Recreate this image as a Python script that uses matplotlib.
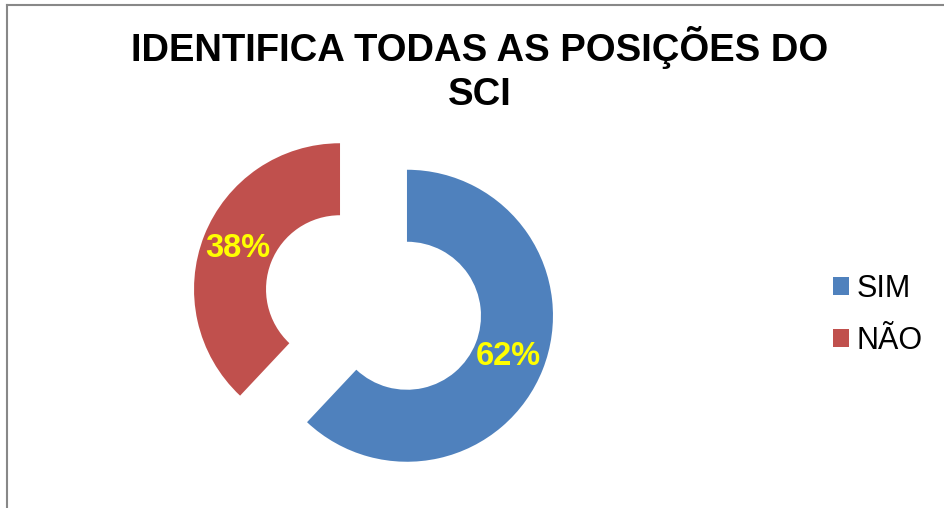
import matplotlib
matplotlib.use('Agg')
import matplotlib.pyplot as plt
from matplotlib.lines import Line2D

plt.rcParams['font.family'] = ['Liberation Sans', 'DejaVu Sans']

title_lines = ['IDENTIFICA TODAS AS POSIÇÕES DO', 'SCI']
categories = ['SIM', 'NÃO']
values = [62, 38]
colors = ['#4F81BD', '#C0504D']

W, H = 945, 508
fig = plt.figure(figsize=(W / 100, H / 100), dpi=100)
ax = fig.add_axes([0, 0, 1, 1])

wedges, texts, autotexts = ax.pie(
    values, colors=colors, startangle=90, counterclock=False,
    center=(373.5, H - 302.5), radius=146, explode=[36, 36],
    wedgeprops=dict(width=72, linewidth=0),
    autopct='%1.0f%%', pctdistance=0.75,
    textprops=dict(color='#FFFF00', fontsize=23.5, fontweight='bold'))
ax.set_xlim(0, W)
ax.set_ylim(0, H)
ax.set_aspect('equal')
ax.axis('off')

# title, two lines (baselines at 61 and 105 px from top)
for line, base in zip(title_lines, [61, 105]):
    fig.text(480 / W, 1 - base / H, line, ha='center', va='baseline',
             fontsize=27.5, fontweight='bold')

fig.legend(wedges, categories, loc='center left',
           bbox_to_anchor=(833 / W, 1 - 315 / H), frameon=False,
           fontsize=22, handlelength=0.52, handleheight=0.52,
           handletextpad=0.26, labelspacing=0.72, borderpad=0,
           borderaxespad=0)

# chart frame (left and top edges)
fig.add_artist(Line2D([7.5 / W, 7.5 / W], [0, 1 - 5 / H], color='#888888', lw=1.5))
fig.add_artist(Line2D([7.5 / W, 1], [1 - 5 / H, 1 - 5 / H], color='#888888', lw=1.5))

fig.savefig('out.png', dpi=100, facecolor='white')
